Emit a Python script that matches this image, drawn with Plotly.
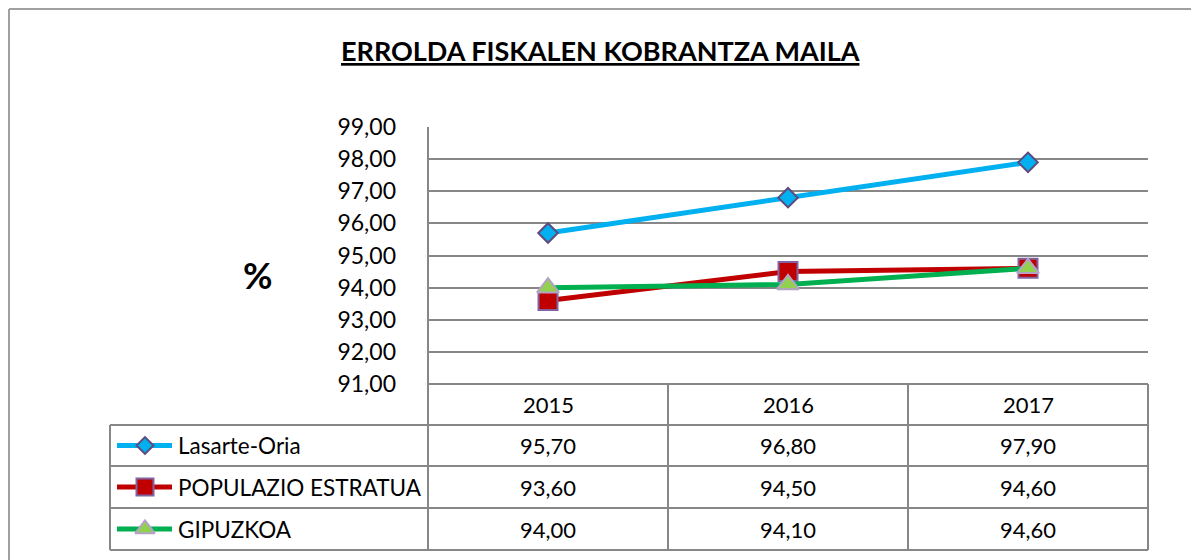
import plotly.graph_objects as go

# ---- data ----
years = ["2015", "2016", "2017"]
series_names = ["Lasarte-Oria", "POPULAZIO ESTRATUA", "GIPUZKOA"]
lasarte = [95.70, 96.80, 97.90]
populazio = [93.60, 94.50, 94.60]
gipuzkoa = [94.00, 94.10, 94.60]
title_text = "ERROLDA FISKALEN KOBRANTZA MAILA"
y_label = "%"

# page body has an 8px margin: shrink the figure and shift coordinates
OFF = 8
W, H = 1199 - OFF, 560 - OFF
FONT = "Lato"

line_colors = ["#00B0F0", "#C00000", "#00B050"]
marker_symbols = ["diamond", "square", "triangle-up"]
marker_fill = ["#00B0F0", "#C00000", "#92D050"]
marker_edge = ["#604A7B", "#8064A2", "#B3A2C7"]
marker_sizes = [15, 19, 19]
values = [lasarte, populazio, gipuzkoa]

# layout geometry in screen pixels
PL, PR, PT, PB = 428, 1148, 127, 384
TABLE_LEFT = 110
ROW_LINES = [384, 425, 466, 508, 550]
GRID = "#878787"
BORDER = "#A0A0A0"

def X(p):
    return p - OFF

def Y(p):
    return p - OFF

fig = go.Figure()

for name, vals, lc, sym, mf, me, ms in zip(series_names, values, line_colors,
                                           marker_symbols, marker_fill, marker_edge, marker_sizes):
    fig.add_trace(go.Scatter(
        x=years, y=vals, name=name, mode="lines+markers",
        line=dict(color=lc, width=5),
        marker=dict(symbol=sym, size=ms, color=mf, line=dict(color=me, width=2)),
        xaxis="x", yaxis="y", showlegend=False, cliponaxis=False,
    ))

# legend keys inside table (overlay pixel axis)
row_centers = [(ROW_LINES[i] + ROW_LINES[i + 1]) / 2 for i in range(4)]
for i, (name, lc, sym, mf, me, ms) in enumerate(zip(series_names, line_colors, marker_symbols,
                                                     marker_fill, marker_edge, marker_sizes)):
    yc = Y(row_centers[i + 1])
    fig.add_trace(go.Scatter(x=[X(117), X(172)], y=[yc, yc], mode="lines",
                             line=dict(color=lc, width=5), xaxis="x2", yaxis="y2",
                             showlegend=False, hoverinfo="skip"))
    fig.add_trace(go.Scatter(x=[X(145)], y=[yc], mode="markers",
                             marker=dict(symbol=sym, size=ms - 2, color=mf, line=dict(color=me, width=2)),
                             xaxis="x2", yaxis="y2", showlegend=False, hoverinfo="skip"))

shapes = []
def seg(x0, y0, x1, y1, color=GRID, w=2):
    shapes.append(dict(type="line", xref="x2", yref="y2", x0=X(x0), y0=Y(y0), x1=X(x1), y1=Y(y1),
                       line=dict(color=color, width=w), layer="above"))

# outer chart border (drawn in paper pixels; the top/left edges sit at the page edge)
def pseg(x0, y0, x1, y1):
    shapes.append(dict(type="line", xref="paper", yref="paper",
                       x0=x0 / W, y0=1 - y0 / H, x1=x1 / W, y1=1 - y1 / H,
                       line=dict(color=BORDER, width=2), layer="above"))

pseg(1, 1, W, 1)
pseg(1, 1, 1, H)
pseg(X(1196), 1, X(1196), H)

# table grid
col_w = (PR - PL) / len(years)
seg(PL, PT, PL, ROW_LINES[-1])
for k in range(1, len(years) + 1):
    seg(PL + k * col_w, ROW_LINES[0], PL + k * col_w, ROW_LINES[-1])
seg(PL, ROW_LINES[0], PR, ROW_LINES[0])
for yl in ROW_LINES[1:]:
    seg(TABLE_LEFT, yl, PR, yl)
seg(TABLE_LEFT, ROW_LINES[1], TABLE_LEFT, ROW_LINES[-1])

annotations = []
def fmt(v):
    return f"{v:.2f}".replace(".", ",")

def txt(x, y, text, size, xanchor="center"):
    annotations.append(dict(xref="x2", yref="y2", x=X(x), y=Y(y), text=text, showarrow=False,
                            font=dict(family=FONT, size=size, color="#000000"),
                            xanchor=xanchor, yanchor="middle"))

for j, yr in enumerate(years):
    xc = PL + (j + 0.5) * col_w
    txt(xc, row_centers[0], yr, 22)
    for i, vals in enumerate(values):
        txt(xc, row_centers[i + 1], fmt(vals[j]), 22)
for i, name in enumerate(series_names):
    txt(176, row_centers[i + 1], name, 22.5, xanchor="left")

txt(600, 50, f"<b><u>{title_text}</u></b>", 27)
txt(258, 275, f"<b>{y_label}</b>", 36)

fig.update_layout(
    width=W, height=H,
    margin=dict(l=0, r=0, t=0, b=0),
    paper_bgcolor="white", plot_bgcolor="rgba(0,0,0,0)",
    separators=",.",
    font=dict(family=FONT, color="#000000"),
    xaxis=dict(type="category", domain=[X(PL) / W, X(PR) / W], range=[-0.5, 2.5], showticklabels=False,
               showgrid=False, zeroline=False, showline=False, ticks="", anchor="y", automargin=False),
    yaxis=dict(domain=[1 - Y(PB) / H, 1 - Y(PT) / H], range=[91, 99], dtick=1, tickformat=".2f",
               showgrid=True, gridcolor=GRID, gridwidth=2, zeroline=False, showline=False,
               ticks="", ticklabelstandoff=31, tickfont=dict(family=FONT, size=23, color="#000000"),
               anchor="x", automargin=False),
    xaxis2=dict(domain=[0, 1], range=[0, W], visible=False, anchor="y2", fixedrange=True),
    yaxis2=dict(domain=[0, 1], range=[H, 0], visible=False, anchor="x2", fixedrange=True),
    shapes=shapes,
    annotations=annotations,
)

fig.write_html("out.html")
